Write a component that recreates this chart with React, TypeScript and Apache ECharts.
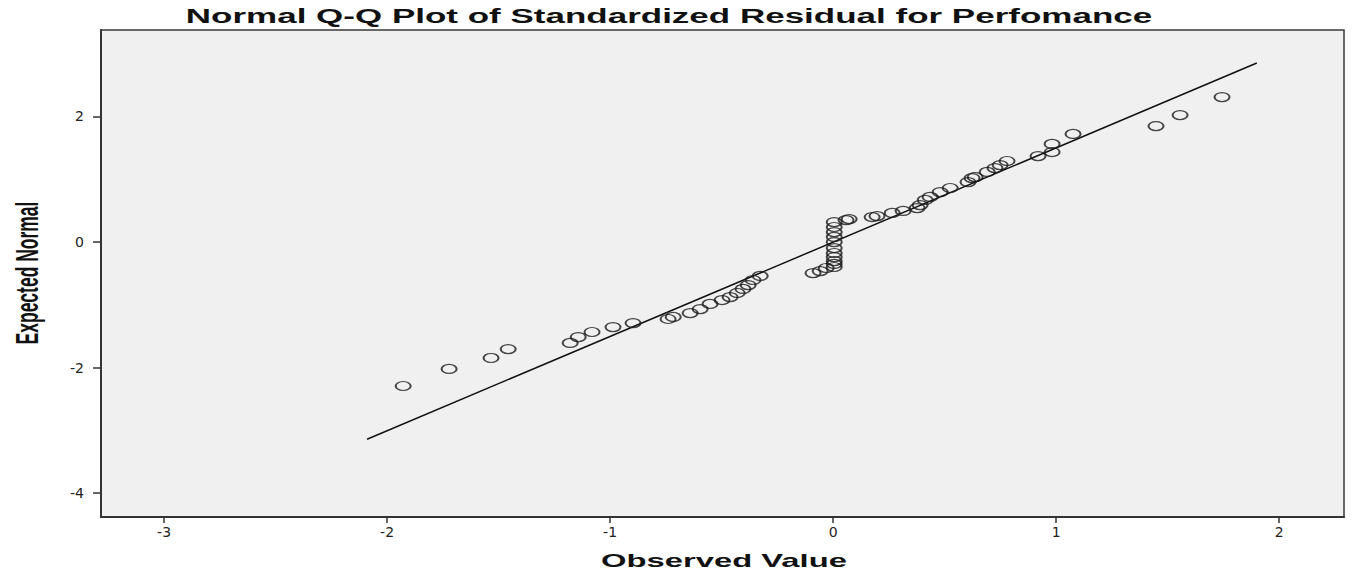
import React, { useEffect, useRef } from "react";
import * as echarts from "echarts";

const obsX = [
  -1.928, -1.722, -1.534, -1.457, -1.179, -1.143, -1.081, -0.987, -0.897,
  -0.740, -0.717, -0.641, -0.596, -0.552, -0.498, -0.462, -0.430, -0.404, -0.381, -0.359, -0.327,
  -0.090, -0.058, -0.031,
  0.005, 0.005, 0.005, 0.005, 0.005, 0.005, 0.005, 0.005, 0.005, 0.005, 0.005,
  0.058, 0.072,
  0.175, 0.197, 0.265, 0.314, 0.377, 0.390, 0.413, 0.435, 0.480, 0.525, 0.605, 0.623, 0.637,
  0.691, 0.726, 0.749, 0.780, 0.919, 0.982, 0.982, 1.076, 1.448, 1.556, 1.744,
];
const expY = [
  -2.293, -2.022, -1.847, -1.704, -1.608, -1.513, -1.433, -1.354, -1.290,
  -1.226, -1.194, -1.131, -1.067, -0.987, -0.924, -0.876, -0.812, -0.748, -0.685, -0.605, -0.541,
  -0.494, -0.462, -0.414,
  -0.398, -0.350, -0.303, -0.239, -0.175, -0.096, 0.0, 0.080, 0.159, 0.239, 0.318,
  0.350, 0.366,
  0.398, 0.414, 0.462, 0.494, 0.541, 0.589, 0.669, 0.717, 0.796, 0.860, 0.955, 1.019, 1.035,
  1.115, 1.178, 1.226, 1.290, 1.369, 1.433, 1.561, 1.720, 1.847, 2.022, 2.309,
];
// Reference line endpoints
const lineX = [-2.09, 1.9];
const lineY = [-3.14, 2.85];

const xTicks = [-3, -2, -1, 0, 1, 2];
const yTicks = [-4, -2, 0, 2];

const titleText = "Normal Q-Q Plot of Standardized Residual for Perfomance";
const xName = "Observed Value";
const yName = "Expected Normal";

export default function App() {
  const ref = useRef<HTMLDivElement>(null);
  useEffect(() => {
    if (!ref.current) return;
    const chart = echarts.init(ref.current, undefined, { renderer: "svg" });
    const points = obsX.map((x, i) => [x, expY[i]]);
    const linePts = lineX.map((x, i) => [x, lineY[i]]);
    const axisText = { fontFamily: "DejaVu Sans", fontSize: 14, color: "#222" };
    chart.setOption({
      animation: false,
      backgroundColor: "#ffffff",
      grid: {
        left: 101,
        top: 30,
        right: 10,
        bottom: 58,
        show: true,
        backgroundColor: "#f0f0f0",
        borderColor: "#3a3a3a",
        borderWidth: 1.5,
      },
      xAxis: {
        type: "value",
        min: -3.283,
        max: 2.291,
        splitLine: { show: false },
        axisLine: { show: true, onZero: false, lineStyle: { color: "#333", width: 2 } },
        axisTick: {
          show: true,
          length: 6,
          customValues: xTicks,
          lineStyle: { color: "#333", width: 1.5 },
        },
        axisLabel: { ...axisText, margin: 8, customValues: xTicks },
      },
      yAxis: {
        type: "value",
        min: -4.379,
        max: 3.376,
        splitLine: { show: false },
        axisLine: { show: true, onZero: false, lineStyle: { color: "#333", width: 2 } },
        axisTick: {
          show: true,
          length: 8,
          customValues: yTicks,
          lineStyle: { color: "#333", width: 1.5 },
        },
        axisLabel: { ...axisText, margin: 17, customValues: yTicks },
      },
      graphic: [
        {
          type: "text",
          x: 669,
          y: 16,
          scaleX: 1.75,
          style: {
            text: titleText,
            fontFamily: "Liberation Sans",
            fontWeight: "bold",
            fontSize: 20,
            fill: "#111",
            textAlign: "center",
            textVerticalAlign: "middle",
          },
        },
        {
          type: "text",
          x: 724,
          y: 561,
          scaleX: 1.82,
          style: {
            text: xName,
            fontFamily: "Liberation Sans",
            fontWeight: "bold",
            fontSize: 18,
            fill: "#111",
            textAlign: "center",
            textVerticalAlign: "middle",
          },
        },
        {
          type: "text",
          x: 27,
          y: 273,
          rotation: Math.PI / 2,
          scaleY: 1.8,
          style: {
            text: yName,
            fontFamily: "Liberation Sans",
            fontWeight: "bold",
            fontSize: 17.5,
            fill: "#111",
            textAlign: "center",
            textVerticalAlign: "middle",
          },
        },
      ],
      series: [
        {
          type: "line",
          data: linePts,
          showSymbol: false,
          symbol: "none",
          lineStyle: { color: "#111", width: 1.5 },
          z: 2,
        },
        {
          type: "scatter",
          data: points,
          symbol: "path://M0 4.5A8 4.5 0 1 0 16 4.5A8 4.5 0 1 0 0 4.5Z",
          symbolKeepAspect: false,
          symbolSize: [15, 9],
          itemStyle: {
            color: "rgba(0,0,0,0)",
            borderColor: "#1a1a1a",
            borderWidth: 1.6,
          },
          z: 3,
        },
      ],
    });
    return () => chart.dispose();
  }, []);
  return (
    <div
      ref={ref}
      style={{ position: "fixed", left: 0, top: 0, width: 1354, height: 575 }}
    />
  );
}
